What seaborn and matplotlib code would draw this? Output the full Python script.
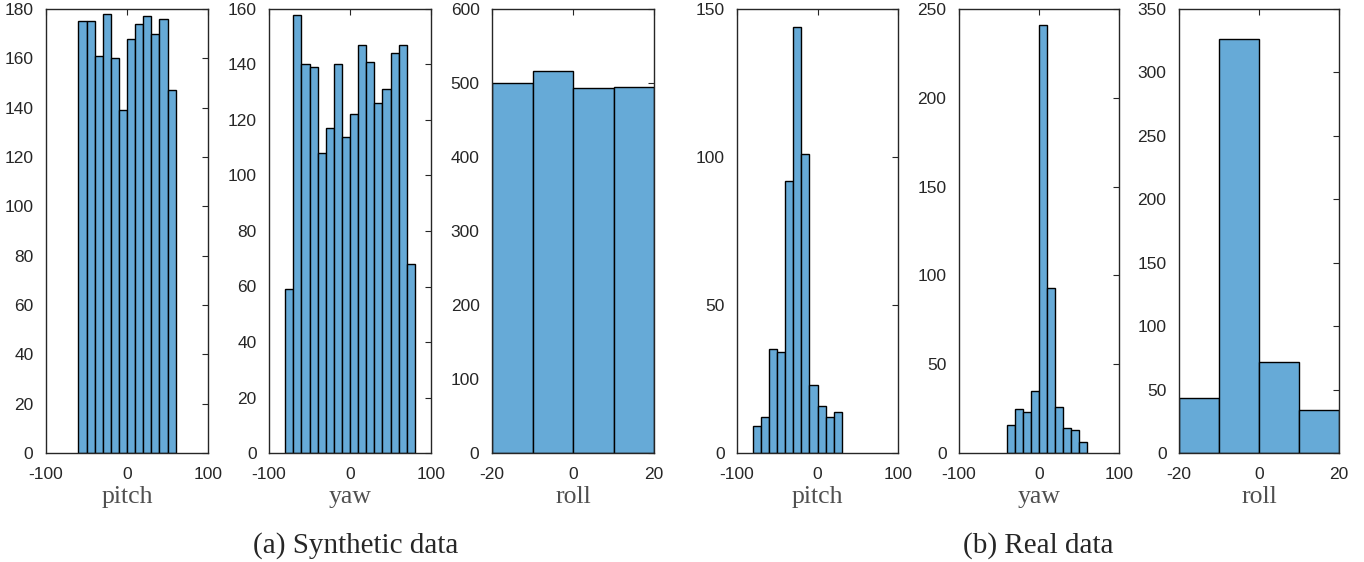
import numpy as np
import pandas as pd
import matplotlib
matplotlib.use("Agg")
import matplotlib.pyplot as plt
import seaborn as sns

# contagens (bins de largura 10)
syn_pitch_edges = list(range(-60, 61, 10))
syn_pitch_counts = [175, 175, 161, 178, 160, 139, 168, 174, 177, 170, 176, 147]

syn_yaw_edges = list(range(-80, 81, 10))
syn_yaw_counts = [59, 158, 140, 139, 108, 117, 140, 114, 122, 147, 141, 126, 131, 144, 147, 68]

syn_roll_edges = list(range(-20, 21, 10))
syn_roll_counts = [500, 516, 493, 495]

real_pitch_edges = list(range(-80, 31, 10))
real_pitch_counts = [9, 12, 35, 34, 92, 144, 101, 23, 16, 12, 14]

real_yaw_edges = list(range(-40, 61, 10))
real_yaw_counts = [16, 25, 23, 35, 241, 93, 26, 14, 13, 6]

real_roll_edges = list(range(-20, 21, 10))
real_roll_counts = [43, 326, 72, 34]

panels = [
    ("pitch", syn_pitch_edges, syn_pitch_counts, (-100, 100), [-100, 0, 100], 180, 20),
    ("yaw", syn_yaw_edges, syn_yaw_counts, (-100, 100), [-100, 0, 100], 160, 20),
    ("roll", syn_roll_edges, syn_roll_counts, (-20, 20), [-20, 0, 20], 600, 100),
    ("pitch", real_pitch_edges, real_pitch_counts, (-100, 100), [-100, 0, 100], 150, 50),
    ("yaw", real_yaw_edges, real_yaw_counts, (-100, 100), [-100, 0, 100], 250, 50),
    ("roll", real_roll_edges, real_roll_counts, (-20, 20), [-20, 0, 20], 350, 50),
]

lefts = [46, 269, 492, 737, 959, 1179]
widths = [162, 162, 162, 161, 160, 160]

sns.set_style("white")
plt.rcParams["font.family"] = ["Liberation Sans", "DejaVu Sans"]
plt.rcParams["axes.unicode_minus"] = False

W, H = 1364, 562
fig = plt.figure(figsize=(W / 100, H / 100), dpi=100)

cor = "#66AAD7"
for (nome, edges, counts, xlim, xt, ymax, ystep), l, w in zip(panels, lefts, widths):
    ax = fig.add_axes([l / W, 1 - 453 / H, w / W, (453 - 9) / H])
    e = np.array(edges, dtype=float)
    df = pd.DataFrame({"valor": (e[:-1] + e[1:]) / 2, "n": counts})
    sns.histplot(data=df, x="valor", weights="n", bins=edges, ax=ax, color=cor,
                 alpha=1, edgecolor="black", linewidth=1)
    ax.set_xlim(*xlim)
    ax.set_ylim(0, ymax)
    ax.set_xticks(xt)
    ax.set_yticks(np.arange(0, ymax + 1, ystep))
    ax.tick_params(direction="in", length=4, width=0.8, top=True, right=True,
                   labelsize=12.5, colors="#262626")
    ax.tick_params(axis="y", pad=9)
    ax.tick_params(axis="x", pad=10)
    for s in ax.spines.values():
        s.set_color("#262626")
        s.set_linewidth(1)
    ax.set_ylabel("")
    ax.set_xlabel(nome, family=["Liberation Serif"], fontsize=18.5, color="#505050", labelpad=3)

fig.text(356 / W, 1 - 546 / H, "(a) Synthetic data", ha="center", va="center",
         family=["Liberation Serif"], fontsize=21)
fig.text(1038 / W, 1 - 546 / H, "(b) Real data", ha="center", va="center",
         family=["Liberation Serif"], fontsize=21)

fig.savefig("out.png", dpi=100)
